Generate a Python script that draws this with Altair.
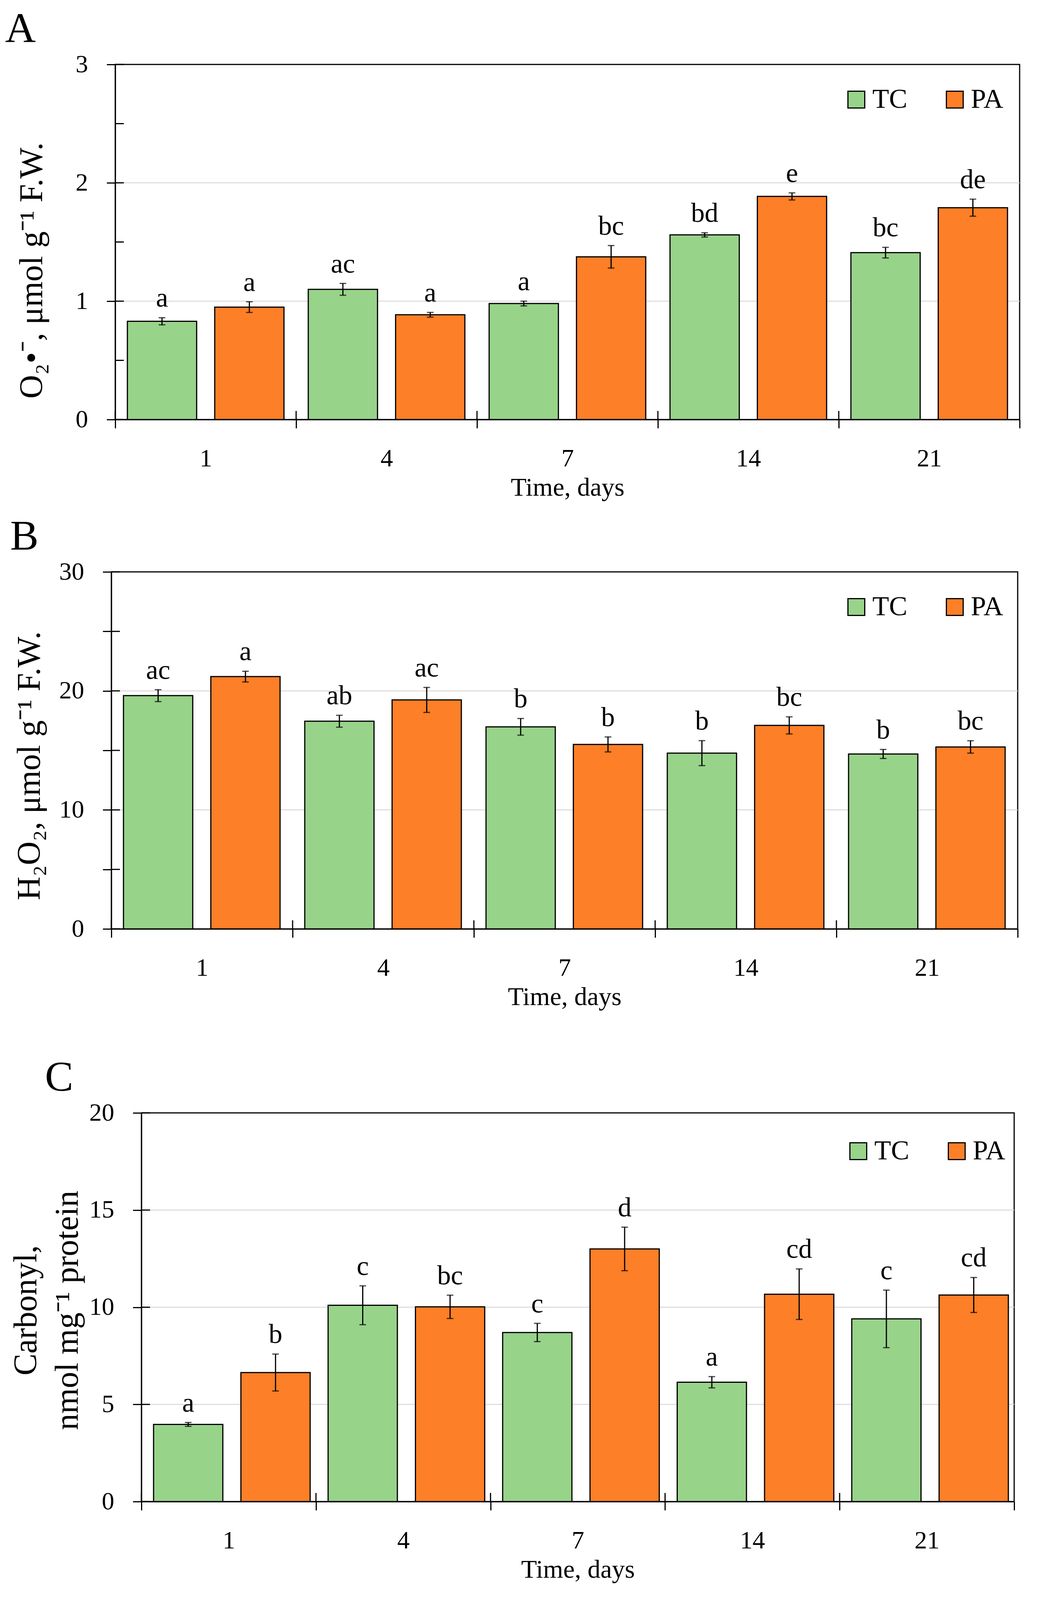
import altair as alt
import pandas as pd

# ---------------- data ----------------
days = ["1", "4", "7", "14", "21"]
groups = ["TC", "PA"]

a_tc = [0.83, 1.10, 0.98, 1.56, 1.41]
a_tc_err = [0.03, 0.05, 0.02, 0.018, 0.045]
a_pa = [0.95, 0.885, 1.375, 1.885, 1.79]
a_pa_err = [0.045, 0.02, 0.095, 0.03, 0.072]
a_tc_let = ["a", "ac", "a", "bd", "bc"]
a_pa_let = ["a", "a", "bc", "e", "de"]

b_tc = [19.6, 17.45, 16.98, 14.77, 14.7]
b_tc_err = [0.5, 0.5, 0.7, 1.05, 0.38]
b_pa = [21.2, 19.24, 15.5, 17.1, 15.29]
b_pa_err = [0.45, 1.05, 0.63, 0.72, 0.52]
b_tc_let = ["ac", "ab", "b", "b", "b"]
b_pa_let = ["a", "ac", "b", "bc", "bc"]

c_tc = [3.97, 10.1, 8.7, 6.14, 9.4]
c_tc_err = [0.1, 1.0, 0.47, 0.29, 1.48]
c_pa = [6.64, 10.02, 13.0, 10.67, 10.63]
c_pa_err = [0.95, 0.6, 1.12, 1.3, 0.9]
c_tc_let = ["a", "c", "c", "a", "c"]
c_pa_let = ["b", "bc", "d", "cd", "cd"]

a_ticks = [0, 0.5, 1, 1.5, 2, 2.5, 3]
a_grid = [1, 2]
b_ticks = [0, 5, 10, 15, 20, 25, 30]
b_grid = [10, 20]
c_ticks = [0, 5, 10, 15, 20]
c_grid = [5, 10, 15]

GREEN = "#98D38A"
ORANGE = "#FD7F27"
FONT = "Liberation Serif"


def table(tc, tc_err, pa, pa_err, tc_let, pa_let):
    rows = []
    for i, d in enumerate(days):
        rows.append({"day": d, "group": "TC", "mean": tc[i], "err": tc_err[i], "letter": tc_let[i]})
        rows.append({"day": d, "group": "PA", "mean": pa[i], "err": pa_err[i], "letter": pa_let[i]})
    return pd.DataFrame(rows)


def panel(letter, df, ticks, grid, ymax, ytitle, label_mod, w, h,
          title_pad, title_y, letter_dx, legend_x, legend_y):
    yscale = alt.Scale(domain=[0, ymax], nice=False, zero=True)
    xscale = alt.Scale(domain=days, paddingInner=0, paddingOuter=0)
    offscale = alt.Scale(domain=groups, paddingInner=0.207, paddingOuter=0.139)
    xaxis = alt.Axis(title="Time, days", tickBand="extent", tickSize=22, labelPadding=46,
                     labelFontSize=64, titleFontSize=66, titlePadding=10, labelAngle=0,
                     domainWidth=3, tickWidth=3, zindex=1)
    yaxis = alt.Axis(values=ticks, tickSize=22, labelPadding=48, labelFontSize=64, format="d",
                     labelExpr=f"datum.value % {label_mod} == 0 ? datum.label : ''",
                     titleFontSize=84, titlePadding=title_pad, titleLineHeight=106, titleY=title_y,
                     grid=False, domainWidth=3, tickWidth=3, zindex=1)
    X = alt.X("day:N", sort=days, scale=xscale, axis=xaxis, title="Time, days")
    XO = alt.XOffset("group:N", sort=groups, scale=offscale)

    base = alt.Chart(df).transform_calculate(
        lo="datum.mean - datum.err", hi="datum.mean + datum.err"
    )

    gridl = alt.Chart(pd.DataFrame({"g": grid})).mark_rule(color="#D9D9D9", strokeWidth=2.5).encode(
        y=alt.Y("g:Q", scale=yscale, axis=yaxis, title=ytitle)
    )
    bars = base.mark_bar(stroke="black", strokeWidth=3).encode(
        x=X, xOffset=XO,
        y=alt.Y("mean:Q", scale=yscale, axis=yaxis, title=ytitle),
        color=alt.Color("group:N", sort=groups,
                        scale=alt.Scale(domain=groups, range=[GREEN, ORANGE]),
                        legend=alt.Legend(title=None, orient="none", legendX=legend_x, legendY=legend_y,
                                          direction="horizontal", symbolType="square",
                                          symbolSize=1849, symbolStrokeColor="black",
                                          symbolStrokeWidth=3, symbolOpacity=1,
                                          labelFontSize=70, labelFont=FONT, labelColor="black",
                                          labelOffset=6, columnPadding=86, padding=0)),
    )
    rule = base.mark_rule(color="black", strokeWidth=3).encode(
        x=X, xOffset=XO,
        y=alt.Y("lo:Q", scale=yscale, axis=yaxis, title=ytitle), y2="hi:Q",
    )
    cap_lo = base.mark_tick(color="black", thickness=3, size=17, orient="horizontal").encode(
        x=X, xOffset=XO, y=alt.Y("lo:Q", scale=yscale, axis=yaxis, title=ytitle)
    )
    cap_hi = base.mark_tick(color="black", thickness=3, size=17, orient="horizontal").encode(
        x=X, xOffset=XO, y=alt.Y("hi:Q", scale=yscale, axis=yaxis, title=ytitle)
    )
    labels = base.mark_text(font=FONT, fontSize=70, dy=-28, baseline="alphabetic", color="black").encode(
        x=X, xOffset=XO, y=alt.Y("hi:Q", scale=yscale, axis=yaxis, title=ytitle), text="letter:N"
    )
    ytick_in = alt.Chart(pd.DataFrame({"v": ticks})).mark_rule(color="black", strokeWidth=3).encode(
        y=alt.Y("v:Q", scale=yscale, axis=yaxis, title=ytitle), x=alt.value(0), x2=alt.value(22)
    )
    xtick_in = alt.Chart(pd.DataFrame({"day": days})).mark_rule(color="black", strokeWidth=3).encode(
        x=alt.X("day:N", sort=days, scale=xscale, axis=xaxis, title="Time, days", bandPosition=0),
        y=alt.value(h - 22), y2=alt.value(h)
    )
    return alt.layer(gridl, bars, rule, cap_lo, cap_hi, labels, ytick_in, xtick_in).properties(
        width=w, height=h,
        title=alt.TitleParams(letter, anchor="start", frame="group", dx=letter_dx, offset=2,
                              fontSize=109, font=FONT, fontWeight="normal", color="black"),
    )


def spacer(w):
    # empty, invisible view used only to indent a panel
    return alt.Chart(pd.DataFrame({"v": []})).mark_point().properties(
        width=w, height=1, view=alt.ViewBackground(stroke="transparent")
    )


def row(sp_w, p):
    return alt.hconcat(spacer(sp_w), p, spacing=0, bounds="flush").resolve_scale(color="independent")


pa_ = panel("A", table(a_tc, a_tc_err, a_pa, a_pa_err, a_tc_let, a_pa_let), a_ticks, a_grid, 3,
            "O₂•⁻,  μmol g⁻¹  F.W.", 1, 2315, 909, 68, 527, -282, 1862, 55)
pb_ = panel("B", table(b_tc, b_tc_err, b_pa, b_pa_err, b_tc_let, b_pa_let), b_ticks, b_grid, 30,
            "H₂O₂,  μmol g⁻¹  F.W.", 10, 2320, 914, 32, 496, -259, 1872, 55)
pc_ = panel("C", table(c_tc, c_tc_err, c_pa, c_pa_err, c_tc_let, c_pa_let), c_ticks, c_grid, 20,
            ["Carbonyl,", "nmol mg⁻¹  protein"], 5, 2234, 995, 12, 505, -247, 1800, 63)

top = alt.vconcat(row(286, pa_), row(276, pb_), spacing=35).resolve_scale(color="independent")
chart = alt.vconcat(top, row(353, pc_), spacing=116).resolve_scale(
    color="independent"
).properties(
    padding={"left": 0, "top": 11, "right": 5, "bottom": 5}
).configure_view(
    stroke="black", strokeWidth=3
).configure_axis(
    labelFont=FONT, titleFont=FONT, labelColor="black", titleColor="black",
    tickColor="black", domainColor="black", titleFontWeight="normal"
)

chart.save("out.html", embed_options={"renderer": "svg", "actions": False})
